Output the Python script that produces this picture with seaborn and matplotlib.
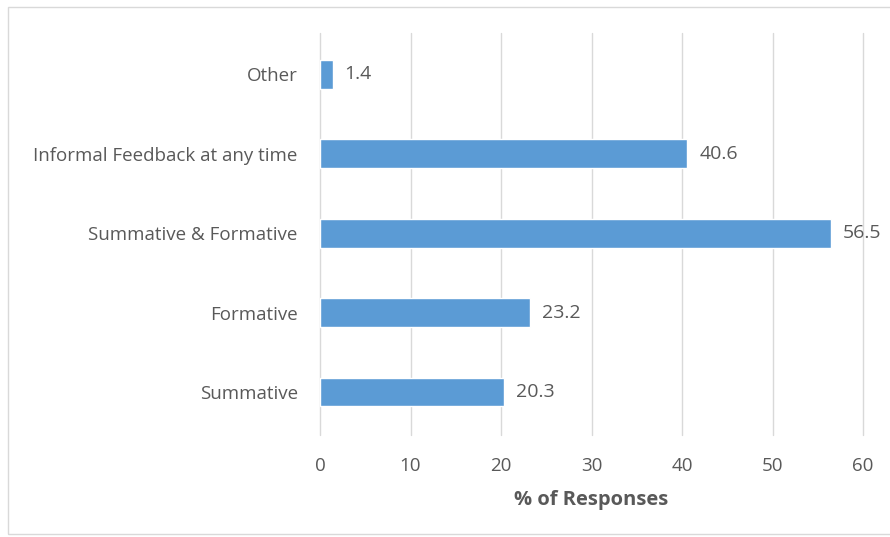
import matplotlib
matplotlib.use("Agg")
import matplotlib.pyplot as plt
from matplotlib.patches import Rectangle
import seaborn as sns
import pandas as pd

categories = ["Other", "Informal Feedback at any time", "Summative & Formative",
              "Formative", "Summative"]
values = [1.4, 40.6, 56.5, 23.2, 20.3]
x_ticks = [0, 10, 20, 30, 40, 50, 60]
x_label = "% of Responses"

sns.set_theme(style="white")
plt.rcParams["font.family"] = ["Open Sans", "DejaVu Sans"]

df = pd.DataFrame({"category": categories, "value": values})

fig = plt.figure(figsize=(8.9, 5.37), dpi=100)
ax = fig.add_axes([0.3596, 0.19, 0.6101, 0.7485])

sns.barplot(data=df, x="value", y="category", order=categories,
            color="#5B9BD5", saturation=1, width=0.36, ax=ax)

ax.set_xlim(0, 60)
ax.set_ylim(4.54, -0.52)
ax.set_xticks(x_ticks)
ax.set_xticklabels([str(t) for t in x_ticks])
ax.grid(axis="x", color="#d9d9d9", linewidth=1)
for gl in ax.get_xgridlines():
    gl.set_clip_on(False)
ax.set_axisbelow(True)
for s in ax.spines.values():
    s.set_visible(False)
ax.tick_params(axis="both", length=0, labelsize=13.5, colors="#595959")
ax.tick_params(axis="y", pad=16)
ax.tick_params(axis="x", pad=16)
ax.set_ylabel("")
ax.set_xlabel(x_label, fontsize=14.5, fontweight="bold", color="#595959", labelpad=11)

for i, v in enumerate(values):
    ax.text(v + 1.3, i, f"{v}", va="center", ha="left",
            fontsize=14, color="#595959")

# thin outer frame around the chart area
fig.patches.append(Rectangle((8 / 890, 3 / 537), 1.2, 1 - 10 / 537,
                             transform=fig.transFigure, fill=False,
                             edgecolor="#d9d9d9", linewidth=1))

fig.savefig("out.png", dpi=100)
